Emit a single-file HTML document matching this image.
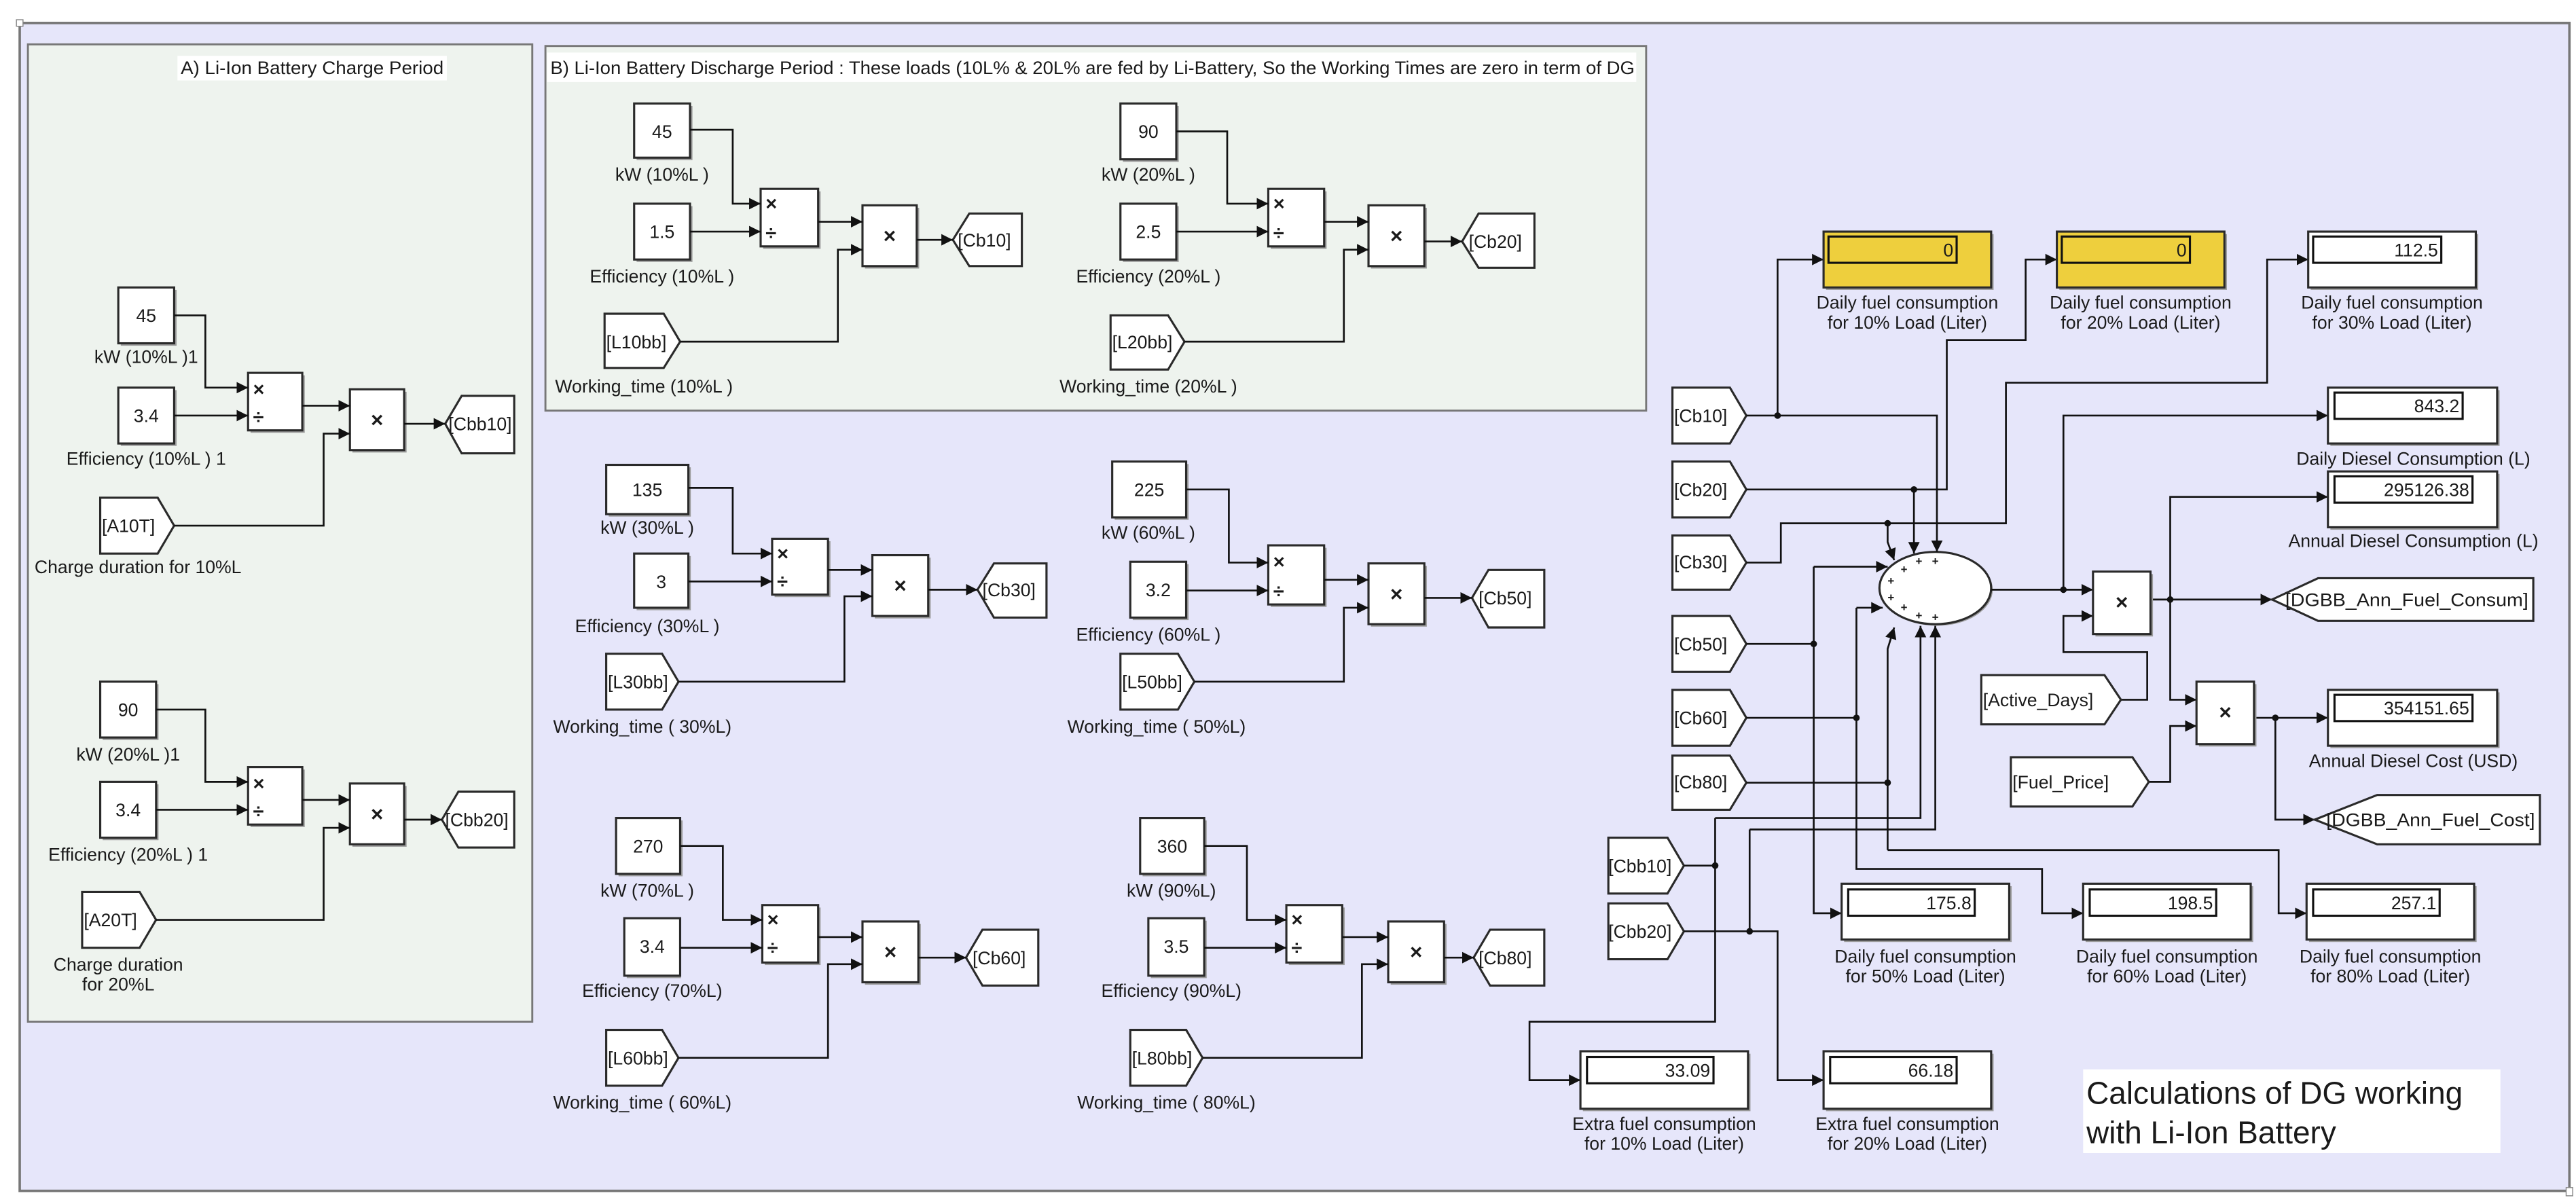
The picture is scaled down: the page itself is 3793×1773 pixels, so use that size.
<!DOCTYPE html>
<html><head><meta charset="utf-8"><style>
html,body{margin:0;padding:0;background:#fff;}
svg{display:block}
text{font-family:"Liberation Sans",Arial,sans-serif;font-size:11px;fill:#1a1a1a}
.b{fill:#fff;stroke:#2a2a2a;stroke-width:1.3}
.s{fill:#9c9c9c}
.w{fill:none;stroke:#111;stroke-width:1.1}
.m{text-anchor:middle}
.e{text-anchor:end}
.v{font-size:11px}
.x{font-size:13px;font-weight:bold}
.d{font-size:12px;font-weight:bold}
.p{font-size:7px;font-weight:bold}
</style></head><body>
<svg width="3793" height="1773" viewBox="0 0 1568 733" preserveAspectRatio="none" xmlns="http://www.w3.org/2000/svg">
<defs>
<marker id="a" markerUnits="userSpaceOnUse" markerWidth="8" markerHeight="8" refX="7" refY="4" orient="auto"><path d="M0,0.5 L7,4 L0,7.5 z" fill="#111"/></marker>
</defs>
<rect x="0" y="0" width="1568" height="733" fill="#fff"/>
<rect x="12" y="14" width="1552" height="711" fill="#e6e6fa" stroke="#777" stroke-width="1.5"/>
<rect x="10" y="12" width="4" height="4" fill="#fff" stroke="#888" stroke-width="0.6"/>
<rect x="1562" y="723" width="4" height="5" fill="#fff" stroke="#888" stroke-width="0.6"/>
<rect x="17" y="27" width="307" height="595" fill="#eef3ee" stroke="#777" stroke-width="1.2"/>
<rect x="108" y="34" width="164" height="15" fill="#fff"/>
<text x="110" y="45" textLength="160" lengthAdjust="spacingAndGlyphs">A) Li-Ion Battery Charge Period</text>
<rect x="332" y="28" width="670" height="222" fill="#eef3ee" stroke="#777" stroke-width="1.2"/>
<rect x="333" y="32" width="663" height="18" fill="#fff"/>
<text x="335" y="45" textLength="660" lengthAdjust="spacingAndGlyphs">B)  Li-Ion Battery Discharge Period : These loads (10L% &amp; 20L% are fed by Li-Battery, So the Working Times are zero in term of DG</text>

<!-- A1 -->
<rect class="s" x="73.5" y="176.5" width="34" height="34"/><rect class="b" x="72" y="175" width="34" height="34"/><text x="89" y="196" class="m v">45</text>
<text x="89" y="221" class="m">kW (10%L )1</text>
<rect class="s" x="73.5" y="237.5" width="34" height="34"/><rect class="b" x="72" y="236" width="34" height="34"/><text x="89" y="257" class="m v">3.4</text>
<text x="89" y="283" class="m">Efficiency (10%L ) 1</text>
<polygon class="b" points="61,303 96,303 106,320 96,337 61,337"/><text x="62" y="324">[A10T]</text>
<text x="84" y="349" class="m">Charge duration for 10%L</text>
<rect class="s" x="152.5" y="228.5" width="33" height="35"/><rect class="b" x="151" y="227" width="33" height="35"/><text x="154" y="241" class="d">×</text><text x="154" y="258" class="d">÷</text>
<rect class="s" x="214.5" y="238.5" width="33" height="37"/><rect class="b" x="213" y="237" width="33" height="37"/><text x="229.5" y="260" class="m x">×</text>
<polygon class="b" points="271,258 281,241 313,241 313,276 281,276"/><text x="273" y="262">[Cbb10]</text>
<path class="w" d="M106,192 H125 V236 H151" marker-end="url(#a)"/>
<path class="w" d="M106,253 H151" marker-end="url(#a)"/>
<path class="w" d="M184,247 H213" marker-end="url(#a)"/>
<path class="w" d="M106,320 H197 V264 H213" marker-end="url(#a)"/>
<path class="w" d="M246,258 H271" marker-end="url(#a)"/>

<!-- A2 -->
<rect class="s" x="62.5" y="416.5" width="34" height="34"/><rect class="b" x="61" y="415" width="34" height="34"/><text x="78" y="436" class="m v">90</text>
<text x="78" y="463" class="m">kW (20%L )1</text>
<rect class="s" x="62.5" y="477.5" width="34" height="34"/><rect class="b" x="61" y="476" width="34" height="34"/><text x="78" y="497" class="m v">3.4</text>
<text x="78" y="524" class="m">Efficiency (20%L ) 1</text>
<polygon class="b" points="50,543 85,543 95,560 85,577 50,577"/><text x="51" y="564">[A20T]</text>
<text x="72" y="591" class="m">Charge duration</text>
<text x="72" y="603" class="m">for 20%L</text>
<rect class="s" x="152.5" y="468.5" width="33" height="35"/><rect class="b" x="151" y="467" width="33" height="35"/><text x="154" y="481" class="d">×</text><text x="154" y="498" class="d">÷</text>
<rect class="s" x="214.5" y="478.5" width="33" height="37"/><rect class="b" x="213" y="477" width="33" height="37"/><text x="229.5" y="500" class="m x">×</text>
<polygon class="b" points="269,499 279,482 313,482 313,516 279,516"/><text x="271" y="503">[Cbb20]</text>
<path class="w" d="M95,432 H125 V476 H151" marker-end="url(#a)"/>
<path class="w" d="M95,493 H151" marker-end="url(#a)"/>
<path class="w" d="M184,487 H213" marker-end="url(#a)"/>
<path class="w" d="M95,560 H197 V504 H213" marker-end="url(#a)"/>
<path class="w" d="M246,499 H269" marker-end="url(#a)"/>

<!-- B1 -->
<rect class="s" x="387.5" y="64.5" width="34" height="33"/><rect class="b" x="386" y="63" width="34" height="33"/><text x="403" y="84" class="m v">45</text>
<text x="403" y="110" class="m">kW (10%L )</text>
<rect class="s" x="387.5" y="125.5" width="34" height="34"/><rect class="b" x="386" y="124" width="34" height="34"/><text x="403" y="145" class="m v">1.5</text>
<text x="403" y="172" class="m">Efficiency (10%L )</text>
<polygon class="b" points="368,191 404,191 414,208 404,224 368,224"/><text x="369" y="212">[L10bb]</text>
<text x="392" y="239" class="m">Working_time (10%L )</text>
<rect class="s" x="464.5" y="116.5" width="35" height="35"/><rect class="b" x="463" y="115" width="35" height="35"/><text x="466" y="128" class="d">×</text><text x="466" y="146" class="d">÷</text>
<rect class="s" x="526.5" y="126.5" width="33" height="37"/><rect class="b" x="525" y="125" width="33" height="37"/><text x="541.5" y="148" class="m x">×</text>
<polygon class="b" points="580,146 590,130 622,130 622,162 590,162"/><text x="583" y="150">[Cb10]</text>
<path class="w" d="M420,79 H446 V124 H463" marker-end="url(#a)"/>
<path class="w" d="M420,141 H463" marker-end="url(#a)"/>
<path class="w" d="M498,135 H525" marker-end="url(#a)"/>
<path class="w" d="M414,208 H510 V152 H525" marker-end="url(#a)"/>
<path class="w" d="M558,146 H580" marker-end="url(#a)"/>

<!-- B2 -->
<rect class="s" x="683.5" y="64.5" width="34" height="34"/><rect class="b" x="682" y="63" width="34" height="34"/><text x="699" y="84" class="m v">90</text>
<text x="699" y="110" class="m">kW (20%L )</text>
<rect class="s" x="683.5" y="125.5" width="34" height="34"/><rect class="b" x="682" y="124" width="34" height="34"/><text x="699" y="145" class="m v">2.5</text>
<text x="699" y="172" class="m">Efficiency (20%L )</text>
<polygon class="b" points="676,192 711,192 721,208 711,225 676,225"/><text x="677" y="212">[L20bb]</text>
<text x="699" y="239" class="m">Working_time (20%L )</text>
<rect class="s" x="773.5" y="116.5" width="34" height="35"/><rect class="b" x="772" y="115" width="34" height="35"/><text x="775" y="128" class="d">×</text><text x="775" y="146" class="d">÷</text>
<rect class="s" x="834.5" y="126.5" width="34" height="37"/><rect class="b" x="833" y="125" width="34" height="37"/><text x="850" y="148" class="m x">×</text>
<polygon class="b" points="890,147 900,130 934,130 934,163 900,163"/><text x="894" y="151">[Cb20]</text>
<path class="w" d="M716,80 H747 V124 H772" marker-end="url(#a)"/>
<path class="w" d="M716,141 H772" marker-end="url(#a)"/>
<path class="w" d="M806,135 H833" marker-end="url(#a)"/>
<path class="w" d="M721,208 H818 V152 H833" marker-end="url(#a)"/>
<path class="w" d="M867,147 H890" marker-end="url(#a)"/>

<!-- Mid1 -->
<rect class="s" x="370.5" y="284.5" width="50" height="30"/><rect class="b" x="369" y="283" width="50" height="30"/><text x="394" y="302" class="m v">135</text>
<text x="394" y="325" class="m">kW (30%L )</text>
<rect class="s" x="387.5" y="338.5" width="33" height="33"/><rect class="b" x="386" y="337" width="33" height="33"/><text x="402.5" y="358" class="m v">3</text>
<text x="394" y="385" class="m">Efficiency (30%L )</text>
<polygon class="b" points="369,398 403,398 413,415 403,432 369,432"/><text x="370" y="419">[L30bb]</text>
<text x="391" y="446" class="m">Working_time ( 30%L)</text>
<rect class="s" x="471.5" y="329.5" width="34" height="34"/><rect class="b" x="470" y="328" width="34" height="34"/><text x="473" y="341" class="d">×</text><text x="473" y="358" class="d">÷</text>
<rect class="s" x="532.5" y="339.5" width="34" height="37"/><rect class="b" x="531" y="338" width="34" height="37"/><text x="548" y="361" class="m x">×</text>
<polygon class="b" points="595,359 605,343 637,343 637,376 605,376"/><text x="598" y="363">[Cb30]</text>
<path class="w" d="M419,297 H446 V337 H470" marker-end="url(#a)"/>
<path class="w" d="M419,354 H470" marker-end="url(#a)"/>
<path class="w" d="M504,347 H531" marker-end="url(#a)"/>
<path class="w" d="M413,415 H514 V363 H531" marker-end="url(#a)"/>
<path class="w" d="M565,359 H595" marker-end="url(#a)"/>

<!-- Mid2 -->
<rect class="s" x="678.5" y="282.5" width="45" height="34"/><rect class="b" x="677" y="281" width="45" height="34"/><text x="699.5" y="302" class="m v">225</text>
<text x="699" y="328" class="m">kW (60%L )</text>
<rect class="s" x="689.5" y="343.5" width="34" height="34"/><rect class="b" x="688" y="342" width="34" height="34"/><text x="705" y="363" class="m v">3.2</text>
<text x="699" y="390" class="m">Efficiency (60%L )</text>
<polygon class="b" points="682,398 717,398 727,415 717,432 682,432"/><text x="683" y="419">[L50bb]</text>
<text x="704" y="446" class="m">Working_time ( 50%L)</text>
<rect class="s" x="773.5" y="333.5" width="34" height="36"/><rect class="b" x="772" y="332" width="34" height="36"/><text x="775" y="346" class="d">×</text><text x="775" y="364" class="d">÷</text>
<rect class="s" x="834.5" y="344.5" width="34" height="37"/><rect class="b" x="833" y="343" width="34" height="37"/><text x="850" y="366" class="m x">×</text>
<polygon class="b" points="896,364 906,347 940,347 940,382 906,382"/><text x="900" y="368">[Cb50]</text>
<path class="w" d="M722,298 H748 V342.5 H772" marker-end="url(#a)"/>
<path class="w" d="M722,359.5 H772" marker-end="url(#a)"/>
<path class="w" d="M806,353 H833" marker-end="url(#a)"/>
<path class="w" d="M727,415 H818 V370 H833" marker-end="url(#a)"/>
<path class="w" d="M867,364 H896" marker-end="url(#a)"/>

<!-- Mid3 -->
<rect class="s" x="376.5" y="499.5" width="39" height="34"/><rect class="b" x="375" y="498" width="39" height="34"/><text x="394.5" y="519" class="m v">270</text>
<text x="394" y="546" class="m">kW (70%L )</text>
<rect class="s" x="381.5" y="560.5" width="33" height="35"/><rect class="b" x="380" y="559" width="34" height="35"/><text x="397" y="580" class="m v">3.4</text>
<text x="397" y="607" class="m">Efficiency (70%L)</text>
<polygon class="b" points="369,627 403,627 413,644 403,661 369,661"/><text x="370" y="648">[L60bb]</text>
<text x="391" y="675" class="m">Working_time ( 60%L)</text>
<rect class="s" x="465.5" y="552.5" width="34" height="35"/><rect class="b" x="464" y="551" width="34" height="35"/><text x="467" y="564" class="d">×</text><text x="467" y="581" class="d">÷</text>
<rect class="s" x="526.5" y="562.5" width="34" height="37"/><rect class="b" x="525" y="561" width="34" height="37"/><text x="542" y="584" class="m x">×</text>
<polygon class="b" points="588,583 598,566 632,566 632,600 598,600"/><text x="592" y="587">[Cb60]</text>
<path class="w" d="M414,515 H440 V560 H464" marker-end="url(#a)"/>
<path class="w" d="M414,577 H464" marker-end="url(#a)"/>
<path class="w" d="M498,570.5 H525" marker-end="url(#a)"/>
<path class="w" d="M413,644 H504 V587 H525" marker-end="url(#a)"/>
<path class="w" d="M559,583 H588" marker-end="url(#a)"/>

<!-- Mid4 -->
<rect class="s" x="695.5" y="499.5" width="39" height="34"/><rect class="b" x="694" y="498" width="39" height="34"/><text x="713.5" y="519" class="m v">360</text>
<text x="713" y="546" class="m">kW (90%L)</text>
<rect class="s" x="700.5" y="560.5" width="34" height="35"/><rect class="b" x="699" y="559" width="34" height="35"/><text x="716" y="580" class="m v">3.5</text>
<text x="713" y="607" class="m">Efficiency (90%L)</text>
<polygon class="b" points="688,627 722,627 732,644 722,661 688,661"/><text x="689" y="648">[L80bb]</text>
<text x="710" y="675" class="m">Working_time ( 80%L)</text>
<rect class="s" x="784.5" y="552.5" width="34" height="35"/><rect class="b" x="783" y="551" width="34" height="35"/><text x="786" y="564" class="d">×</text><text x="786" y="581" class="d">÷</text>
<rect class="s" x="846.5" y="562.5" width="34" height="37"/><rect class="b" x="845" y="561" width="34" height="37"/><text x="862" y="584" class="m x">×</text>
<polygon class="b" points="897,583 907,566 940,566 940,600 907,600"/><text x="900" y="587">[Cb80]</text>
<path class="w" d="M733,515 H759 V560 H783" marker-end="url(#a)"/>
<path class="w" d="M733,577 H783" marker-end="url(#a)"/>
<path class="w" d="M817,570.5 H845" marker-end="url(#a)"/>
<path class="w" d="M732,644 H829 V587 H845" marker-end="url(#a)"/>
<path class="w" d="M879,583 H897" marker-end="url(#a)"/>

<!-- Right: from blocks -->
<polygon class="b" points="1018,236 1053,236 1063,253 1053,270 1018,270"/><text x="1019" y="257">[Cb10]</text>
<polygon class="b" points="1018,281 1053,281 1063,298 1053,315 1018,315"/><text x="1019" y="302">[Cb20]</text>
<polygon class="b" points="1018,326 1053,326 1063,342.5 1053,359 1018,359"/><text x="1019" y="346">[Cb30]</text>
<polygon class="b" points="1018,375 1053,375 1063,392 1053,409 1018,409"/><text x="1019" y="396">[Cb50]</text>
<polygon class="b" points="1018,420 1053,420 1063,437 1053,454 1018,454"/><text x="1019" y="441">[Cb60]</text>
<polygon class="b" points="1018,460 1053,460 1063,476.5 1053,493 1018,493"/><text x="1019" y="480">[Cb80]</text>
<polygon class="b" points="979,510 1015,510 1025,527 1015,544 979,544"/><text x="979" y="531">[Cbb10]</text>
<polygon class="b" points="979,550 1015,550 1025,567 1015,584 979,584"/><text x="979" y="571">[Cbb20]</text>

<ellipse cx="1179" cy="359" rx="34" ry="22" fill="#9c9c9c"/>
<ellipse cx="1178" cy="358" rx="34" ry="22" class="b"/>
<text x="1159" y="349" class="m p">+</text><text x="1168" y="344" class="m p">+</text><text x="1178" y="344" class="m p">+</text>
<text x="1151" y="356" class="m p">+</text><text x="1151" y="366" class="m p">+</text><text x="1159" y="372" class="m p">+</text>
<text x="1168" y="377" class="m p">+</text><text x="1178" y="378" class="m p">+</text>

<path class="w" d="M1063,253 H1179 V336" marker-end="url(#a)"/>
<path class="w" d="M1082,253 V158 H1110" marker-end="url(#a)"/>
<path class="w" d="M1063,298 H1185 V207 H1233 V158 H1252" marker-end="url(#a)"/>
<path class="w" d="M1165,298 V337" marker-end="url(#a)"/>
<path class="w" d="M1063,342.5 H1084 V318.6 H1221 V233 H1380 V158 H1405" marker-end="url(#a)"/>
<path class="w" d="M1149,318.6 V330 L1153,341" marker-end="url(#a)"/>
<path class="w" d="M1063,392 H1104"/>
<path class="w" d="M1104,345 H1149" marker-end="url(#a)"/>
<path class="w" d="M1104,345 V556 H1121" marker-end="url(#a)"/>
<path class="w" d="M1063,437 H1130"/>
<path class="w" d="M1130,370 H1146" marker-end="url(#a)"/>
<path class="w" d="M1130,370 V529 H1243 V556 H1268" marker-end="url(#a)"/>
<path class="w" d="M1063,476.5 H1149"/>
<path class="w" d="M1149,517.5 V395 L1153,382" marker-end="url(#a)"/>
<path class="w" d="M1149,517.5 H1387 V556 H1404" marker-end="url(#a)"/>
<path class="w" d="M1025,527 H1044"/>
<path class="w" d="M1044,498 H1169 V381" marker-end="url(#a)"/>
<path class="w" d="M1044,498 V622 H931 V657.6 H962" marker-end="url(#a)"/>
<path class="w" d="M1025,567 H1065"/>
<path class="w" d="M1065,505 H1178 V381" marker-end="url(#a)"/>
<path class="w" d="M1065,505 V567 H1082 V657.6 H1110" marker-end="url(#a)"/>
<path class="w" d="M1212,359 H1274" marker-end="url(#a)"/>
<path class="w" d="M1256,359 V253 H1417" marker-end="url(#a)"/>
<path class="w" d="M1309,365 H1383" marker-end="url(#a)"/>
<path class="w" d="M1321,365 V302.5 H1417" marker-end="url(#a)"/>
<path class="w" d="M1321,365 V426 H1337" marker-end="url(#a)"/>
<path class="w" d="M1291,426 H1307 V397 H1256 V375 H1274" marker-end="url(#a)"/>
<path class="w" d="M1308,476 H1321 V442 H1337" marker-end="url(#a)"/>
<path class="w" d="M1372,437 H1417" marker-end="url(#a)"/>
<path class="w" d="M1385,437 V499 H1409" marker-end="url(#a)"/>
<g fill="#111">
<circle cx="1082" cy="253" r="2"/><circle cx="1165" cy="298" r="2"/><circle cx="1149" cy="318.6" r="2"/>
<circle cx="1104" cy="392" r="2"/><circle cx="1130" cy="437" r="2"/><circle cx="1149" cy="476.5" r="2"/>
<circle cx="1044" cy="527" r="2"/><circle cx="1065" cy="567" r="2"/><circle cx="1256" cy="359" r="2"/>
<circle cx="1321" cy="365" r="2"/><circle cx="1385" cy="437" r="2"/>
</g>

<rect class="s" x="1275.5" y="349.5" width="35" height="38"/><rect class="b" x="1274" y="348" width="35" height="38"/><text x="1291.5" y="371" class="m x">×</text>
<rect class="s" x="1338.5" y="416.5" width="35" height="38"/><rect class="b" x="1337" y="415" width="35" height="38"/><text x="1354.5" y="438" class="m x">×</text>
<polygon class="b" points="1206,411 1281,411 1291,426 1281,441 1206,441"/><text x="1207" y="430">[Active_Days]</text>
<polygon class="b" points="1224,461 1298,461 1308,476 1298,491 1224,491"/><text x="1225" y="480">[Fuel_Price]</text>
<polygon class="b" points="1383,365 1411,352 1542,352 1542,378 1411,378"/><text x="1391" y="369" textLength="148" lengthAdjust="spacingAndGlyphs">[DGBB_Ann_Fuel_Consum]</text>
<polygon class="b" points="1409,499 1447,484 1546,484 1546,514 1447,514"/><text x="1416" y="503" textLength="127" lengthAdjust="spacingAndGlyphs">[DGBB_Ann_Fuel_Cost]</text>

<rect class="s" x="1111.5" y="142.5" width="102" height="34"/><rect x="1110" y="141" width="102" height="34" fill="#eecf3d" stroke="#2a2a2a" stroke-width="1.3"/>
<rect x="1113" y="144" width="78" height="16" fill="#eecf3d" stroke="#111" stroke-width="1.3"/><text x="1189" y="156" class="e">0</text>
<text x="1161" y="188" class="m">Daily fuel consumption</text><text x="1161" y="200" class="m">for 10%  Load (Liter)</text>
<rect class="s" x="1253.5" y="142.5" width="102" height="34"/><rect x="1252" y="141" width="102" height="34" fill="#eecf3d" stroke="#2a2a2a" stroke-width="1.3"/>
<rect x="1255" y="144" width="78" height="16" fill="#eecf3d" stroke="#111" stroke-width="1.3"/><text x="1331" y="156" class="e">0</text>
<text x="1303" y="188" class="m">Daily fuel consumption</text><text x="1303" y="200" class="m">for 20%  Load (Liter)</text>
<rect class="s" x="1406.5" y="142.5" width="102" height="34"/><rect class="b" x="1405" y="141" width="102" height="34"/>
<rect x="1408" y="144" width="78" height="16" fill="#fff" stroke="#111" stroke-width="1.3"/><text x="1484" y="156" class="e">112.5</text>
<text x="1456" y="188" class="m">Daily fuel consumption</text><text x="1456" y="200" class="m">for 30%  Load (Liter)</text>

<rect class="s" x="1418.5" y="237.5" width="103" height="34"/><rect class="b" x="1417" y="236" width="103" height="34"/>
<rect x="1421" y="239" width="78" height="16" fill="#fff" stroke="#111" stroke-width="1.3"/><text x="1497" y="251" class="e">843.2</text>
<text x="1469" y="283" class="m">Daily Diesel Consumption  (L)</text>
<rect class="s" x="1418.5" y="288.5" width="103" height="34"/><rect class="b" x="1417" y="287" width="103" height="34"/>
<rect x="1421" y="290" width="84" height="16" fill="#fff" stroke="#111" stroke-width="1.3"/><text x="1503" y="302" class="e">295126.38</text>
<text x="1469" y="333" class="m">Annual Diesel Consumption  (L)</text>
<rect class="s" x="1418.5" y="421.5" width="103" height="34"/><rect class="b" x="1417" y="420" width="103" height="34"/>
<rect x="1421" y="423" width="84" height="16" fill="#fff" stroke="#111" stroke-width="1.3"/><text x="1503" y="435" class="e">354151.65</text>
<text x="1469" y="467" class="m">Annual Diesel Cost  (USD)</text>

<rect class="s" x="1122.5" y="539.5" width="102" height="34"/><rect class="b" x="1121" y="538" width="102" height="34"/>
<rect x="1125" y="541.5" width="77" height="16" fill="#fff" stroke="#111" stroke-width="1.3"/><text x="1200" y="553.5" class="e">175.8</text>
<text x="1172" y="586" class="m">Daily fuel consumption</text><text x="1172" y="598" class="m">for 50%  Load (Liter)</text>
<rect class="s" x="1269.5" y="539.5" width="102" height="34"/><rect class="b" x="1268" y="538" width="102" height="34"/>
<rect x="1272" y="541.5" width="77" height="16" fill="#fff" stroke="#111" stroke-width="1.3"/><text x="1347" y="553.5" class="e">198.5</text>
<text x="1319" y="586" class="m">Daily fuel consumption</text><text x="1319" y="598" class="m">for 60%  Load (Liter)</text>
<rect class="s" x="1405.5" y="539.5" width="102" height="34"/><rect class="b" x="1404" y="538" width="102" height="34"/>
<rect x="1408" y="541.5" width="77" height="16" fill="#fff" stroke="#111" stroke-width="1.3"/><text x="1483" y="553.5" class="e">257.1</text>
<text x="1455" y="586" class="m">Daily fuel consumption</text><text x="1455" y="598" class="m">for 80%  Load (Liter)</text>
<rect class="s" x="963.5" y="641.5" width="102" height="35"/><rect class="b" x="962" y="640" width="102" height="35"/>
<rect x="966" y="643.5" width="77" height="16" fill="#fff" stroke="#111" stroke-width="1.3"/><text x="1041" y="655.5" class="e">33.09</text>
<text x="1013" y="688" class="m">Extra fuel consumption</text><text x="1013" y="700" class="m">for 10%  Load (Liter)</text>
<rect class="s" x="1111.5" y="641.5" width="102" height="35"/><rect class="b" x="1110" y="640" width="102" height="35"/>
<rect x="1114" y="643.5" width="77" height="16" fill="#fff" stroke="#111" stroke-width="1.3"/><text x="1189" y="655.5" class="e">66.18</text>
<text x="1161" y="688" class="m">Extra fuel consumption</text><text x="1161" y="700" class="m">for 20%  Load (Liter)</text>

<rect x="1268" y="651" width="254" height="51" fill="#fff"/>
<text x="1270" y="672" style="font-size:19px">Calculations of DG working</text>
<text x="1270" y="696" style="font-size:19px">with Li-Ion Battery</text>
</svg>
</body></html>
